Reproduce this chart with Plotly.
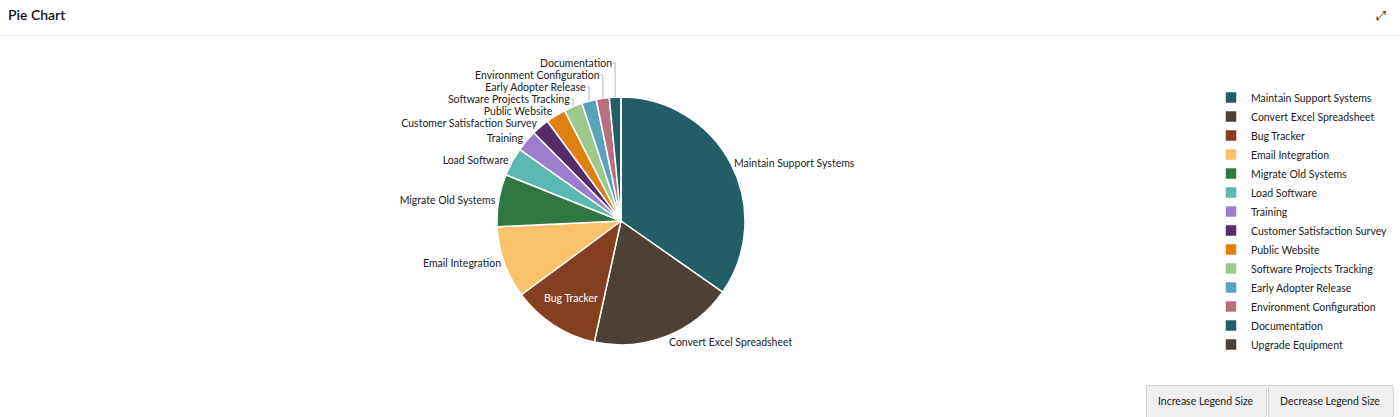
import plotly.graph_objects as go

labels = ["Maintain Support Systems", "Convert Excel Spreadsheet", "Bug Tracker",
          "Email Integration", "Migrate Old Systems", "Load Software", "Training",
          "Customer Satisfaction Survey", "Public Website", "Software Projects Tracking",
          "Early Adopter Release", "Environment Configuration", "Documentation",
          "Upgrade Equipment"]
values = [34.7, 18.7, 11.4, 9.4, 6.8, 3.7, 2.8, 2.3, 2.6, 2.4, 1.9, 1.7, 1.5, 0]
colors = ["#235E66", "#4D4037", "#853F1E", "#FBC26B", "#2F7843", "#5BB8B3", "#9D7ECE",
          "#562D6A", "#E07F12", "#9DC98B", "#5AA2BC", "#B8707F", "#235E66", "#4D4037"]
text_pos = ["outside", "outside", "inside"] + ["outside"] * 11

W, H = 1400, 417
FONT = "Lato, 'Segoe UI', sans-serif"

slice_text = [lab if v > 0 else "" for lab, v in zip(labels, values)]

fig = go.Figure(go.Pie(
    labels=labels, values=values, sort=False, direction="clockwise", rotation=0,
    marker=dict(colors=colors, line=dict(color="white", width=1.5)),
    text=slice_text, textinfo="text", textposition=text_pos,
    insidetextorientation="horizontal",
    insidetextfont=dict(color="white", size=10.5, family=FONT),
    outsidetextfont=dict(color="#222", size=10.5, family=FONT),
    domain=dict(x=[497 / W, 745 / W], y=[1 - 345 / H, 1 - 97 / H]),
    hoverinfo="label+value",
))

fig.update_layout(
    width=W, height=H,
    margin=dict(l=0, r=0, t=0, b=0),
    paper_bgcolor="white", plot_bgcolor="white",
    font=dict(family=FONT, size=10.5, color="#222"),
    title=dict(text="Pie Chart", x=8 / W, xanchor="left", xref="container",
               y=1 - 15 / H, yanchor="middle", yref="container",
               font=dict(size=14, color="#111", family=FONT, weight=600)),
    legend=dict(x=1211 / W, xanchor="left", y=1 - 221 / H, yanchor="middle",
                font=dict(size=10.5, color="#222", family=FONT),
                itemwidth=30, bgcolor="rgba(0,0,0,0)"),
    shapes=[dict(type="line", xref="paper", yref="paper", x0=0, x1=1,
                 y0=1 - 35.5 / H, y1=1 - 35.5 / H,
                 line=dict(color="#ebebeb", width=1))],
    annotations=[dict(text="⤢", x=1381 / W, y=1 - 15 / H, xref="paper", yref="paper",
                      xanchor="center", yanchor="middle",
                      showarrow=False, font=dict(size=13, color="#333",
                                                 family="DejaVu Sans"))],
    updatemenus=[dict(
        type="buttons", direction="right", x=1392 / W, xanchor="right",
        y=0, yanchor="bottom", pad=dict(t=0, r=0, b=0, l=0),
        showactive=False, bgcolor="#efefef", bordercolor="#d2d2d2", borderwidth=1,
        font=dict(size=10.5, color="#222", family=FONT),
        buttons=[
            dict(label="Increase Legend Size", method="relayout",
                 args=[{"legend.font.size": 12.5}]),
            dict(label="Decrease Legend Size", method="relayout",
                 args=[{"legend.font.size": 9}]),
        ])],
)

post = """
document.body.style.margin = '0';
var gd = document.getElementById('{plot_id}');
function tint() {
  gd.querySelectorAll('path.textline').forEach(function (p) {
    p.style.stroke = '#c3cad6';
  });
}
tint();
if (gd.on) { gd.on('plotly_afterplot', tint); }
"""

fig.write_html("out.html", post_script=post, config={"displayModeBar": False})
